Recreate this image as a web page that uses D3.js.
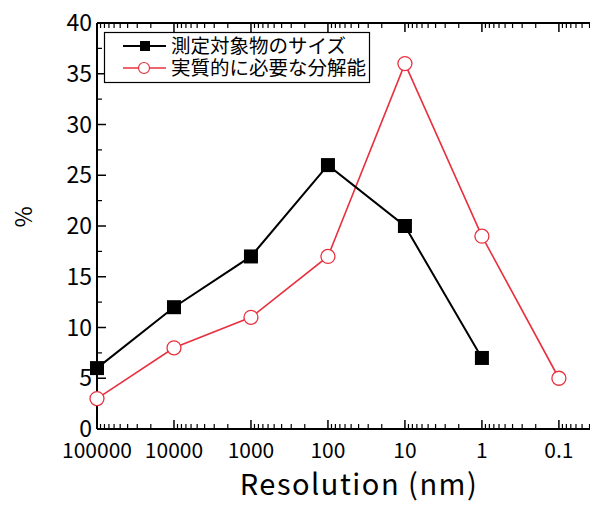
<!DOCTYPE html>
<html>
<head>
<meta charset="utf-8">
<script src="https://cdn.jsdelivr.net/npm/d3@7"></script>
<style>
body { margin: 0; background: #fff; }
text { font-family: "Noto Sans CJK JP", "Liberation Sans", sans-serif; }
</style>
</head>
<body>
<div id="chart"></div>
<script>
// data
var resolutions = [100000, 10000, 1000, 100, 10, 1, 0.1];
var tickLabels = ["100000", "10000", "1000", "100", "10", "1", "0.1"];
var sizeValues = [6, 12, 17, 26, 20, 7];          // 測定対象物のサイズ
var needValues = [3, 8, 11, 17, 36, 19, 5];       // 実質的に必要な分解能
var seriesNames = ["測定対象物のサイズ", "実質的に必要な分解能"];
var yTicks = [0, 5, 10, 15, 20, 25, 30, 35, 40];

var W = 590, H = 505;
var mLeft = 97, mTop = 23, mRight = 592, mBottom = 429;

var svg = d3.select("#chart").append("svg")
    .attr("width", W)
    .attr("height", H);

var x = d3.scaleLog()
    .domain([1e5, Math.pow(10, -1.43)])
    .range([mLeft, mRight]);

var y = d3.scaleLinear()
    .domain([0, 40])
    .range([mBottom, mTop]);

// minor ticks for log axis
var minors = [];
for (var e = -2; e <= 4; e++) {
    for (var m = 2; m <= 9; m++) {
        var v = m * Math.pow(10, e);
        if (v < 1e5 && v > x.domain()[1]) minors.push(v);
    }
}
var yMinors = d3.range(2.5, 40, 5);

// bottom axis
var bx = svg.append("g").attr("transform", "translate(0," + mBottom + ")");
bx.append("line").attr("x1", mLeft).attr("x2", mRight).attr("stroke", "#000").attr("stroke-width", 2);
bx.selectAll(".maj").data(resolutions).enter().append("line")
    .attr("x1", d => x(d)).attr("x2", d => x(d))
    .attr("y1", 0).attr("y2", -9).attr("stroke", "#000").attr("stroke-width", 1.5);
bx.selectAll(".min").data(minors).enter().append("line")
    .attr("x1", d => x(d)).attr("x2", d => x(d))
    .attr("y1", 0).attr("y2", -5).attr("stroke", "#000").attr("stroke-width", 1.2);
bx.selectAll(".lab").data(resolutions).enter().append("text")
    .attr("x", d => x(d)).attr("y", 29)
    .attr("text-anchor", "middle")
    .attr("font-size", 21)
    .text((d, i) => tickLabels[i]);

// top axis
var tx = svg.append("g").attr("transform", "translate(0," + mTop + ")");
tx.append("line").attr("x1", mLeft).attr("x2", mRight).attr("stroke", "#000").attr("stroke-width", 2);
tx.selectAll(".maj").data(resolutions).enter().append("line")
    .attr("x1", d => x(d)).attr("x2", d => x(d))
    .attr("y1", 0).attr("y2", 9).attr("stroke", "#000").attr("stroke-width", 1.5);
tx.selectAll(".min").data(minors).enter().append("line")
    .attr("x1", d => x(d)).attr("x2", d => x(d))
    .attr("y1", 0).attr("y2", 5).attr("stroke", "#000").attr("stroke-width", 1.2);

// left axis
var ly = svg.append("g").attr("transform", "translate(" + mLeft + ",0)");
ly.append("line").attr("y1", mTop).attr("y2", mBottom).attr("stroke", "#000").attr("stroke-width", 2);
ly.selectAll(".maj").data(yTicks).enter().append("line")
    .attr("y1", d => y(d)).attr("y2", d => y(d))
    .attr("x1", 0).attr("x2", 9).attr("stroke", "#000").attr("stroke-width", 1.5);
ly.selectAll(".min").data(yMinors).enter().append("line")
    .attr("y1", d => y(d)).attr("y2", d => y(d))
    .attr("x1", 0).attr("x2", 5).attr("stroke", "#000").attr("stroke-width", 1.2);
ly.selectAll(".lab").data(yTicks).enter().append("text")
    .attr("x", -5).attr("y", d => y(d) + 8)
    .attr("text-anchor", "end")
    .attr("font-size", 23)
    .text(d => d);

// axis titles
svg.append("text")
    .attr("x", 359).attr("y", 495)
    .attr("text-anchor", "middle")
    .attr("font-size", 29)
    .attr("letter-spacing", 1.5)
    .text("Resolution (nm)");
svg.append("text")
    .attr("transform", "translate(32,217) rotate(-90)")
    .attr("text-anchor", "middle")
    .attr("font-size", 23)
    .text("%");

var red = "#e8313f";
var line = d3.line().x(d => x(d[0])).y(d => y(d[1]));

var sizePts = sizeValues.map((v, i) => [resolutions[i], v]);
var needPts = needValues.map((v, i) => [resolutions[i], v]);

var plot = svg.append("g");
plot.append("path").datum(needPts)
    .attr("d", line).attr("fill", "none").attr("stroke", red).attr("stroke-width", 1.6);
plot.append("path").datum(sizePts)
    .attr("d", line).attr("fill", "none").attr("stroke", "#000").attr("stroke-width", 2);

plot.selectAll(".sq").data(sizePts).enter().append("rect")
    .attr("x", d => x(d[0]) - 7).attr("y", d => y(d[1]) - 7)
    .attr("width", 14).attr("height", 14).attr("fill", "#000");
plot.selectAll(".ci").data(needPts).enter().append("circle")
    .attr("cx", d => x(d[0])).attr("cy", d => y(d[1]))
    .attr("r", 7).attr("fill", "#fff").attr("stroke", red).attr("stroke-width", 1.3);

// legend
var lg = svg.append("g");
lg.append("rect").attr("x", 104.5).attr("y", 32.5).attr("width", 265).attr("height", 50)
    .attr("fill", "#fff").attr("stroke", "#000").attr("stroke-width", 1.2);
var rows = [{ name: seriesNames[0], color: "#000" }, { name: seriesNames[1], color: red }];
rows.forEach(function (r, i) {
    var cy = 46 + i * 22;
    lg.append("line").attr("x1", 123).attr("x2", 166).attr("y1", cy).attr("y2", cy)
        .attr("stroke", r.color).attr("stroke-width", i === 0 ? 2 : 1.6);
    if (i === 0) {
        lg.append("rect").attr("x", 140).attr("y", cy - 5).attr("width", 10).attr("height", 10).attr("fill", "#000");
    } else {
        lg.append("circle").attr("cx", 144).attr("cy", cy).attr("r", 5.5)
            .attr("fill", "#fff").attr("stroke", red).attr("stroke-width", 1.2);
    }
    lg.append("text").attr("x", 171).attr("y", cy + 7)
        .attr("font-size", 19.5)
        .text(r.name);
});
</script>
</body>
</html>
